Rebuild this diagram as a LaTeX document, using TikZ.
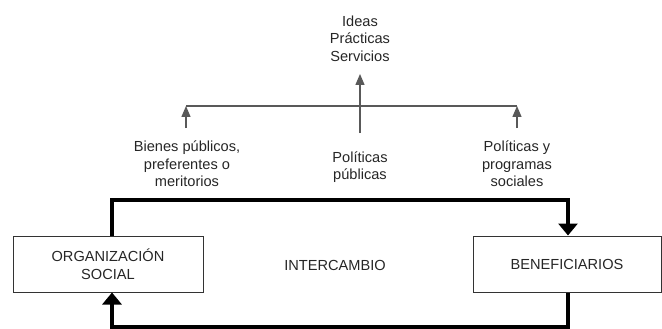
\documentclass[tikz,border=0pt]{standalone}
\usepackage{fontspec}
\setmainfont{Liberation Sans}
\usetikzlibrary{arrows.meta}
\begin{document}
\begin{tikzpicture}[x=1pt,y=-1pt,
  every node/.style={font=\fontsize{14.6}{17.5}\selectfont, text=black!85, align=center, inner sep=0pt},
  boxnode/.style={draw=black!80, line width=1pt, minimum height=56pt, inner sep=0pt},
  bigarrow/.style={draw=black, line width=4pt, line join=miter, -{Triangle[width=19pt,length=12pt]}},
  thinarrow/.style={draw=black!65, line width=1.4pt, -{Triangle[width=9pt,length=11pt]}},
  thinline/.style={draw=black!65, line width=1.6pt}]
\useasboundingbox (0,0) rectangle (662,329);
\node[boxnode, minimum width=190pt] (org) at (108,264) {ORGANIZACIÓN\\SOCIAL};
\node[boxnode, minimum width=188pt] (ben) at (567,264) {BENEFICIARIOS};
\node (inter) at (335,265) {INTERCAMBIO};
\node (ideas) at (360,38.5) {Ideas\\Prácticas\\Servicios};
\node (l1) at (187,164) {Bienes públicos,\\preferentes o\\meritorios};
\node (l2) at (360,167) {Políticas\\públicas};
\node (l3) at (517,164) {Políticas y\\programas\\sociales};
% tree
\coordinate (hl) at (186,106);
\coordinate (hr) at (517,106);
\coordinate (a1) at (186,128);
\coordinate (a3) at (517,128);
\coordinate (a2b) at (360,133);
\coordinate (a2t) at (360,74);
\draw[thinline] (hl) -- (hr);
\draw[thinarrow] (a1) -- (hl);
\draw[thinarrow] (a3) -- (hr);
\draw[thinarrow] (a2b) -- (a2t);
% exchange loop
\coordinate (tl) at (112,200);
\coordinate (tr) at (568,200);
\coordinate (bl) at (112,327);
\coordinate (br) at (568,327);
\draw[bigarrow] (tl |- org.north) -- (tl) -- (tr) -- (tr |- ben.north);
\draw[bigarrow] (br |- ben.south) -- (br) -- (bl) -- (bl |- org.south);
\end{tikzpicture}
\end{document}
